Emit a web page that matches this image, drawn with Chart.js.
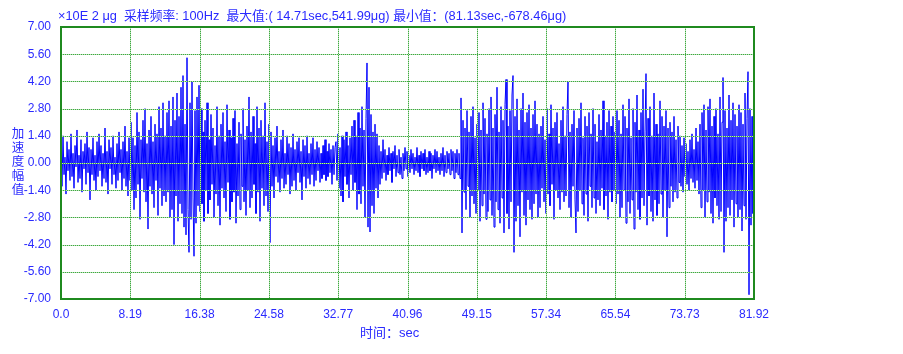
<!DOCTYPE html>
<html>
<head>
<meta charset="utf-8">
<script src="https://cdn.jsdelivr.net/npm/chart.js@4.4.1/dist/chart.umd.min.js"></script>
<style>
  html, body { margin: 0; padding: 0; background: #fff; }
  #wrap { width: 903px; height: 354px; position: relative; }
</style>
</head>
<body>
<div id="wrap"><canvas id="waveChart"></canvas></div>
<script>
// Acceleration amplitude (x10E2 ug), one value per pixel column
const waveStart = [
  0.9,-1.2,1.4,-0.6,0.3,-1.6,1.1,-0.4,0.7,-0.9,
  1.5,-0.7,0.5,-1.3,0.9,-0.2,1.7,-1.0,0.4,-0.8,
  1.2,-1.5,0.6,-0.3,1.0,-1.1,1.6,-0.5,0.8,-1.9,
  0.7,-0.6,1.3,-0.9,0.4,-1.4,1.1,-0.7,1.5,-0.4,
  0.9,-1.2,0.5,-0.8,1.8,-1.0,0.6,-1.6,1.2,-0.3,
  0.8,-1.1,1.4,-0.6,0.3,-1.3,1.0,-0.9,1.6,-0.5,
  0.7,-1.4,1.1,-0.8,1.9,-1.2,0.6,-1.7,1.3,-0.9
];
const waveBurst1 = [
  2.1,-1.4,1.3,-2.4,0.9,-1.8,2.6,-1.1,1.6,-2.9,
  1.2,-0.8,2.2,-1.5,2.8,-2.0,1.0,-3.4,1.7,-1.2,
  2.4,-1.6,1.1,-2.3,2.0,-0.9,1.5,-2.7,2.9,-1.3,
  1.8,-2.2,3.1,-1.7,1.4
];
const waveMain = [
  -2.0,2.6,-1.5,3.2,-2.8,1.9,-2.4,3.4,-4.2,2.2,
  -1.7,3.6,-3.0,2.4,-2.1,3.9,-2.6,4.5,-3.3,2.0,
  -3.7,5.42,-2.4,-4.6,3.1,-2.9,4.2,-1.8,-4.8,2.7,
  -3.1,3.4,-2.2,4.0,-2.5
];
const waveAfter = [
  2.8,-2.1,1.6,-3.0,2.2,-1.4,3.1,-2.6,1.2,-1.9,
  2.5,-1.1,1.8,-2.8,0.9,-1.6,2.9,-2.2,1.4,-3.2,
  2.0,-1.3,2.6,-1.8,1.1,-2.5,3.0,-1.0,1.7,-2.9,
  1.3,-2.0,2.3,-1.5,2.7,-3.1,1.0,-1.7,2.1,-2.4,
  1.5,-1.2,2.8,-2.0,1.2,-2.7,1.9,-1.4,3.4,-2.3,
  1.6,-1.8,2.4,-1.1,1.0,-2.6,2.9,-1.5,1.8,-3.0,
  2.2,-1.3,1.4,-2.2,3.1,-1.7,1.1,-2.5,2.0,-4.1
];
const waveQuiet1 = [
  1.6,-1.2,0.9,-1.8,1.3,-0.7,1.9,-1.0,0.6,-1.5,
  1.2,-0.8,1.7,-1.3,0.5,-1.1,1.4,-0.6,1.0,-1.6,
  0.8,-1.2,1.5,-0.9,0.7,-1.4,1.1,-0.5,1.3,-1.0,
  0.6,-1.9,1.2,-0.7,0.9,-1.3,1.4,-0.8,0.5,-1.1,
  1.0,-0.6,1.3,-1.2,0.7,-0.9,1.1,-0.4,0.8,-1.0,
  0.5,-0.8,0.9,-0.6,1.2,-0.9,0.6,-0.7,1.0,-0.5,
  0.7,-1.1,0.9,-0.6,0.8
];
const waveBurst2 = [
  1.1,-0.9,1.5,-1.3,0.8,-1.7,1.4,-2.0,1.2,-0.7,
  1.6,-1.1,0.9,-1.8,1.3,-0.6,1.9,-1.4,2.2,-1.0,
  1.4,-2.4,2.6,-1.6,1.8,-2.1,2.9,-1.2,1.7,-2.8,
  2.3,5.15,-3.3,3.9,-3.55,2.5,-2.2,1.6,-2.6,2.0,
  -1.3,1.5,-1.8
];
const waveQuiet2 = [
  0.9,-1.1,0.6,-0.8,1.2,-0.5,0.7,-0.9,0.4,-0.6,
  0.8,-0.4,0.5,-1.0,0.6,-0.3,0.9,-0.7,0.4,-0.5,
  0.7,-0.6,0.3,-0.8,0.5,-0.4,0.8,-0.3,0.6,-0.7,
  0.4,-0.5,0.7,-0.3,0.5,-0.6,0.3,-0.4,0.8,-0.5,
  0.4,-0.7,0.6,-0.3,0.5,-0.4,0.7,-0.6,0.3,-0.5,
  0.6,-0.4,0.5,-0.8,0.4,-0.3,0.7,-0.5,0.6,-0.4,
  0.3,-0.6,0.5,-0.4,0.8,-0.7,0.4,-0.5,0.6,-0.3,
  0.5,-0.6,0.7,-0.4,0.6,-0.8,0.5,-0.5,0.7,-0.6
];
const waveRise = [
  0.5,-0.8,3.35,-3.6,2.2,-1.5,1.8,-2.4,2.7,-1.2,
  1.6,-2.8,2.4,-1.7,2.9,-2.1,1.3,-2.6,2.0,-1.4,
  2.6,-3.0,1.7,-2.2,3.1,-1.6,2.3,-2.9,1.5,-2.5,
  2.8,-1.9,3.4,-2.7,1.8,-3.3,2.5,-2.0,3.9,-2.4,
  1.6,-3.1,2.9,-1.8,2.2,-3.6,3.0,4.3,-2.6,1.9,
  -3.4,2.7,-2.0,3.5,4.5,-4.6,2.4,-3.0,3.3,-2.2,
  1.7,-3.8,2.8,-1.5,3.6,-2.7,2.1,-3.2,2.6,-1.9,
  3.0,-2.4,1.8,-2.9,2.5,-2.1,3.2,-1.6,2.0,-2.8,
  1.5,-2.3
];
const waveMid = [
  1.9,-1.3,2.4,-2.0,1.2,-2.6,2.8,-1.6,1.5,-2.2,
  3.0,-1.1,1.8,-2.9,2.1,-1.4,2.6,-1.8,1.0,-2.4,
  2.2,-1.5,2.9,-2.0,1.4,-1.7,2.5,4.2,-2.3,1.6,
  -2.8,2.0,-1.2,2.7,-1.9,-3.6,1.8,-2.5,2.3,-1.4,
  3.1,-2.1,1.3,-2.7,2.4,-1.6,1.9,-3.0,2.6,-1.2,
  1.5,-2.3,2.8,-1.8,2.0,-2.6,1.1,-1.9,2.5,-2.2,
  1.7,-1.3,3.2,-2.4,1.4,-1.7,2.1,-2.9,2.7,-1.5,
  1.9,-2.0,2.4,-1.4,1.6
];
const waveLate = [
  -2.1,2.7,-1.6,2.2,-2.8,1.5,-2.3,3.0,-1.4,2.4,
  -3.1,1.8,-2.0,3.3,-2.6,1.3,-1.9,2.8,-3.4,2.1,
  -1.5,3.5,-2.4,1.7,-2.9,2.6,-1.8,3.8,-2.2,1.6,
  4.6,-3.2,2.3,-1.7,2.9,-2.5,1.4,-3.0,3.6,-1.9,
  2.0,-2.7,1.5,-2.1,3.2,-1.6,2.4,-2.8,1.9,-1.4,
  2.7,-3.8,1.8,-2.3,2.1,-1.2,1.6,-2.0,2.4,-1.5,
  1.2,-1.8,1.9,-1.0,1.4
];
const waveCalm = [
  -1.2,0.9,-1.5,1.3,-0.7,1.0,-1.1,0.6,-1.4,1.2,
  -0.8,1.5,-1.0,0.7,-1.3,1.8,-0.9,1.1,-1.6,2.0
];
const waveEnd = [
  -2.3,2.6,-1.4,3.0,-2.8,1.7,-2.0,2.9,-1.5,3.3,
  -2.6,1.9,-3.1,2.4,-1.8,2.8,-2.2,1.5,-2.9,3.4,
  -2.5,2.1,4.4,-4.6,2.7,-3.0,1.8,-2.3,3.5,-2.7,
  2.2,-1.9,3.1,-3.3,2.5,-2.1,1.9,-2.8,3.0,-2.4,
  2.6,-3.5,2.0,-2.2,3.6,-2.9,2.3,4.7,-6.78,2.8,
  -3.2,2.4,-2.6,1.8
];

const duration = 81.92; // sec
const xTickValues = [0, 8.192, 16.384, 24.576, 32.768, 40.96, 49.152, 57.344, 65.536, 73.728, 81.92];
const xTickLabels = ['0.0', '8.19', '16.38', '24.58', '32.77', '40.96', '49.15', '57.34', '65.54', '73.73', '81.92'];
const yTickValues = [7, 5.6, 4.2, 2.8, 1.4, 0, -1.4, -2.8, -4.2, -5.6, -7];
const yTickLabels = ['7.00', '5.60', '4.20', '2.80', '1.40', '0.00', '-1.40', '-2.80', '-4.20', '-5.60', '-7.00'];

const headerText = '×10E 2 μg  采样频率: 100Hz  最大值:( 14.71sec,541.99μg) 最小值：(81.13sec,-678.46μg)';
const yTitleChars = ['加', '速', '度', '幅', '值'];
const xTitleText = '时间：sec';

const wave = [].concat(waveStart, waveBurst1, waveMain, waveAfter, waveQuiet1, waveBurst2,
  waveQuiet2, waveRise, waveMid, waveLate, waveCalm, waveEnd);
const points = wave.map((v, i) => ({ x: i * duration / (wave.length - 1), y: v }));

const textBlue = '#2a2aff';
const fontFamily = '"Liberation Sans", Arial, "Noto Sans CJK SC", sans-serif';

// dotted green grid over the trace (like the original), then frame and free texts
function gridPath(chart) {
  const { ctx, chartArea: a } = chart;
  const xs = chart.scales.x, ys = chart.scales.y;
  ctx.beginPath();
  xTickValues.forEach(v => {
    const px = Math.round(xs.getPixelForValue(v)) + 0.5;
    ctx.moveTo(px, a.top);
    ctx.lineTo(px, a.bottom);
  });
  yTickValues.forEach(v => {
    const py = Math.round(ys.getPixelForValue(v)) + 0.5;
    ctx.moveTo(a.left, py);
    ctx.lineTo(a.right, py);
  });
}

const overlay = {
  id: 'overlay',
  afterDatasetsDraw(chart) {
    const { ctx, chartArea: a } = chart;
    ctx.save();
    ctx.lineWidth = 1;
    gridPath(chart);
    ctx.strokeStyle = '#b5dfb5';
    ctx.stroke();
    ctx.setLineDash([1, 1]);
    ctx.strokeStyle = '#3fa83f';
    ctx.stroke();
    ctx.setLineDash([]);
    ctx.strokeStyle = '#1f8a1f';
    ctx.lineWidth = 2;
    ctx.strokeRect(a.left, a.top, a.right - a.left, a.bottom - a.top);
    ctx.restore();
  },
  afterDraw(chart) {
    const ctx = chart.ctx;
    ctx.save();
    ctx.fillStyle = textBlue;
    ctx.textBaseline = 'middle';
    ctx.textAlign = 'left';
    ctx.font = '12.8px ' + fontFamily;
    ctx.fillText(headerText, 58, 16);
    ctx.font = '13px ' + fontFamily;
    ctx.fillText(xTitleText, 360, 333);
    ctx.font = '12.5px ' + fontFamily;
    ctx.textAlign = 'center';
    yTitleChars.forEach((c, i) => ctx.fillText(c, 18, 135 + i * 13.8));
    ctx.restore();
  }
};

new Chart(document.getElementById('waveChart'), {
  type: 'line',
  data: {
    datasets: [{
      data: points,
      borderColor: '#0000ff',
      borderWidth: 1,
      pointRadius: 0,
      tension: 0,
      fill: false
    }]
  },
  options: {
    responsive: true,
    maintainAspectRatio: false,
    animation: false,
    events: [],
    layout: { padding: { left: 0, top: 27, right: 149, bottom: 0 } },
    plugins: { legend: { display: false }, tooltip: { enabled: false } },
    scales: {
      x: {
        type: 'linear',
        min: 0,
        max: duration,
        afterBuildTicks: axis => { axis.ticks = xTickValues.map(v => ({ value: v })); },
        afterFit: axis => { axis.height = 55; },
        ticks: {
          autoSkip: false,
          maxRotation: 0,
          padding: 8,
          color: textBlue,
          font: { family: fontFamily, size: 12 },
          callback: (v, i) => xTickLabels[i]
        },
        grid: { display: false, drawTicks: false },
        border: { display: false }
      },
      y: {
        min: -7,
        max: 7,
        afterBuildTicks: axis => { axis.ticks = yTickValues.map(v => ({ value: v })); },
        afterFit: axis => { axis.width = 61; },
        ticks: {
          autoSkip: false,
          padding: 10,
          color: textBlue,
          font: { family: fontFamily, size: 12 },
          callback: (v, i) => yTickLabels[i]
        },
        grid: { display: false, drawTicks: false },
        border: { display: false }
      }
    }
  },
  plugins: [overlay]
});
</script>
</body>
</html>
